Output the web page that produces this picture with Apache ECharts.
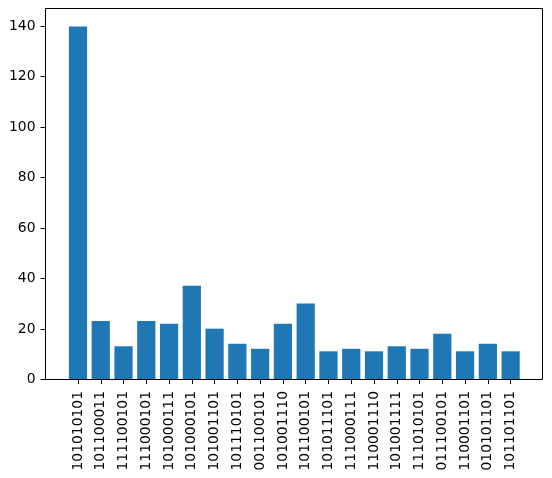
<!DOCTYPE html>
<html>
<head>
<meta charset="utf-8">
<script src="https://cdn.jsdelivr.net/npm/echarts@6/dist/echarts.min.js"></script>
<style>
  html, body { margin: 0; padding: 0; background: #fff; }
  #chart { width: 552px; height: 478px; }
</style>
</head>
<body>
<div id="chart"></div>
<script>
// bitstring counts
const categories = ['101010101', '101100011', '111100101', '111000101', '101000111',
  '101000101', '101001101', '101110101', '001100101', '101001110',
  '101100101', '101011101', '111000111', '110001110', '101001111',
  '111010101', '011100101', '110001101', '010101101', '101101101']
const counts = [140, 23, 13, 23, 22, 37, 20, 14, 12, 22, 30, 11, 12, 11, 13, 12, 18, 11, 14, 11]
const yMax = 147

const font = 'DejaVu Sans'
const chart = echarts.init(document.getElementById('chart'))

chart.setOption({
  animation: false,
  textStyle: { fontFamily: font },
  grid: [
    // frame + y axis (half pixel offsets keep the border crisp)
    { left: 45.5, right: 9.5, top: 8.5, bottom: 98.5, show: true, borderColor: '#000', borderWidth: 1, backgroundColor: 'transparent' },
    // bars
    { left: 66.6, right: 30, top: 9, bottom: 99 }
  ],
  xAxis: [
    { gridIndex: 0, type: 'value', show: false, min: 0, max: 1 },
    {
      gridIndex: 1,
      type: 'category',
      data: categories,
      axisLine: { show: false },
      axisTick: { show: true, alignWithLabel: true, length: 5, lineStyle: { color: '#000', width: 1 } },
      axisLabel: { rotate: 90, interval: 0, margin: 12, color: '#000', fontSize: 13.9, fontFamily: font }
    }
  ],
  yAxis: [
    {
      gridIndex: 0,
      type: 'value',
      min: 0,
      max: yMax,
      interval: 20,
      splitLine: { show: false },
      axisLine: { show: false },
      axisTick: { show: true, length: 5, lineStyle: { color: '#000' } },
      axisLabel: { color: '#000', fontSize: 13.9, margin: 10, fontFamily: font, showMaxLabel: false }
    },
    { gridIndex: 1, type: 'value', show: false, min: 0, max: yMax, splitLine: { show: false } }
  ],
  series: [
    {
      type: 'bar',
      xAxisIndex: 1,
      yAxisIndex: 1,
      data: counts,
      barCategoryGap: '20%',
      itemStyle: { color: '#1f77b4' }
    }
  ]
})
</script>
</body>
</html>
